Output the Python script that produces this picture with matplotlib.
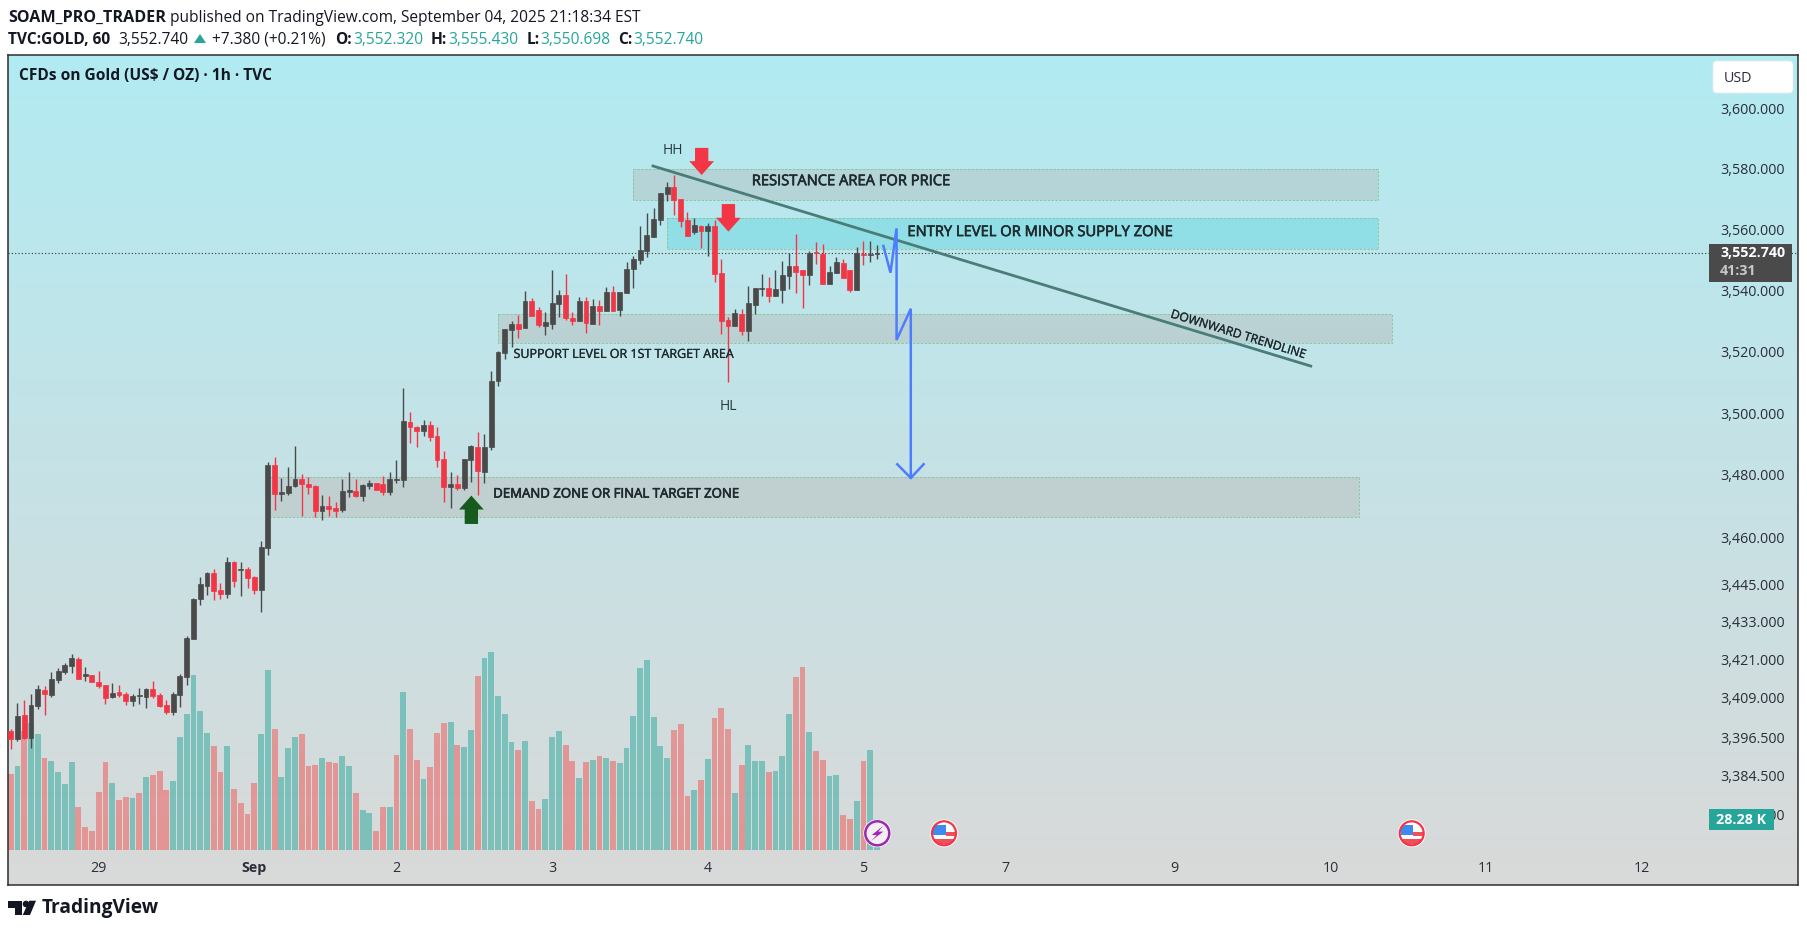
import numpy as np
import matplotlib
matplotlib.use("Agg")
import matplotlib.pyplot as plt
import matplotlib.patheffects as pe
from matplotlib.patches import Circle, Polygon, Rectangle, FancyBboxPatch
from matplotlib.transforms import Affine2D, ScaledTranslation
from matplotlib.ticker import NullLocator

plt.rcParams['font.family'] = ['Open Sans', 'DejaVu Sans']

# hourly bars, one value per bar
opens = [3399.1,3396.6,3404.2,3396.9,3407.0,3412.0,3410.5,3415.2,3417.7,3419.6,
         3421.8,3416.5,3416.8,3414.6,3413.6,3409.8,3411.4,3410.8,3408.6,3410.1,
         3409.8,3412.3,3410.5,3407.3,3405.1,3410.5,3416.1,3428.2,3440.8,3445.0,
         3449.1,3443.7,3442.4,3452.6,3450.1,3450.4,3447.9,3443.7,3457.1,3483.8,
         3474.4,3474.7,3477.0,3479.3,3477.6,3477.0,3469.0,3470.6,3469.9,3469.3,
         3475.1,3475.4,3473.8,3477.0,3478.0,3477.6,3475.1,3478.9,3478.9,3497.7,
         3496.0,3494.7,3496.7,3493.1,3485.7,3476.7,3477.6,3476.4,3485.4,3489.6,
         3481.5,3489.6,3510.9,3520.0,3527.5,3529.5,3528.2,3537.0,3534.1,3528.9,
         3529.5,3536.0,3539.0,3531.5,3530.5,3537.0,3529.5,3535.4,3533.8,3540.0,
         3534.1,3539.6,3547.5,3550.5,3553.4,3558.0,3563.6,3572.2,3574.5,3570.6,
         3563.6,3559.7,3561.7,3560.0,3561.7,3546.2,3530.8,3528.9,3532.8,3527.2,
         3535.7,3541.0,3541.3,3538.7,3540.6,3545.2,3548.5,3547.2,3545.6,3553.1,
         3552.4,3542.6,3546.2,3549.5,3547.2,3540.6,3552.4,3552.1,3552.32]
highs = [3399.8,3407.9,3408.9,3410.8,3413.6,3413.3,3417.7,3419.0,3420.6,3423.4,
         3422.5,3419.3,3416.8,3418.0,3413.6,3414.2,3413.6,3411.4,3410.8,3412.7,
         3412.7,3414.9,3411.1,3408.9,3411.4,3417.1,3429.1,3441.2,3447.9,3449.5,
         3450.4,3445.9,3454.2,3453.0,3452.6,3451.1,3448.2,3459.4,3484.7,3486.3,
         3479.6,3483.1,3489.9,3480.9,3479.9,3477.3,3474.1,3473.8,3471.9,3479.3,
         3481.5,3479.3,3477.6,3478.9,3478.0,3480.2,3481.5,3485.4,3508.7,3500.9,
         3496.4,3498.3,3498.0,3496.0,3488.3,3481.5,3480.5,3485.7,3490.2,3494.4,
         3493.8,3514.2,3520.7,3527.9,3530.5,3532.4,3540.3,3538.0,3535.1,3533.4,
         3547.2,3540.6,3545.9,3533.4,3538.3,3538.3,3537.7,3537.3,3541.6,3541.9,
         3540.0,3549.8,3551.8,3561.7,3566.0,3567.6,3572.6,3576.2,3578.5,3570.6,
         3566.3,3564.3,3562.0,3562.7,3563.6,3550.8,3531.8,3534.4,3534.4,3541.9,
         3541.3,3545.9,3544.9,3547.2,3550.1,3552.8,3559.0,3547.2,3553.4,3556.4,
         3555.7,3548.5,3551.5,3550.8,3547.2,3554.7,3556.7,3556.7,3555.43]
lows = [3393.5,3396.0,3396.6,3393.8,3406.0,3404.2,3409.8,3414.2,3417.1,3417.4,
        3415.5,3414.9,3414.6,3412.7,3407.6,3409.5,3409.8,3407.3,3407.0,3407.6,
        3406.4,3409.5,3406.7,3404.5,3404.2,3406.7,3413.6,3428.2,3438.9,3442.1,
        3440.5,3440.8,3441.2,3444.7,3441.8,3444.4,3442.4,3436.7,3454.9,3469.3,
        3472.2,3474.1,3476.7,3467.4,3474.4,3467.0,3466.1,3467.4,3467.0,3468.7,
        3473.5,3473.5,3472.2,3476.0,3475.7,3474.1,3474.1,3478.0,3476.7,3490.9,
        3489.6,3493.1,3491.5,3483.1,3471.9,3469.9,3475.7,3475.7,3478.3,3474.1,
        3478.0,3488.6,3509.3,3518.1,3522.0,3524.9,3528.2,3532.1,3528.5,3525.9,
        3527.9,3531.8,3530.8,3529.2,3530.5,3526.6,3529.5,3529.2,3533.8,3533.8,
        3532.1,3539.6,3541.3,3549.2,3551.5,3558.0,3562.0,3569.9,3565.3,3561.3,
        3558.4,3559.0,3554.4,3551.8,3543.3,3526.2,3510.6,3528.9,3525.9,3524.0,
        3532.8,3538.7,3536.7,3538.7,3536.4,3541.0,3539.6,3534.7,3542.3,3549.2,
        3542.6,3542.6,3546.2,3544.6,3540.0,3540.6,3548.8,3549.8,3550.698]
closes = [3396.6,3403.8,3396.9,3407.3,3412.3,3410.8,3415.5,3418.0,3419.9,3422.1,
          3415.5,3417.1,3414.6,3413.3,3409.5,3411.1,3410.5,3408.6,3410.1,3410.5,
          3412.3,3410.1,3407.0,3405.1,3410.8,3416.5,3428.5,3440.8,3445.6,3449.1,
          3443.4,3442.4,3452.6,3446.6,3450.4,3447.5,3443.7,3457.4,3483.8,3474.4,
          3475.1,3477.0,3479.3,3477.6,3476.7,3469.0,3470.6,3469.6,3469.0,3475.4,
          3475.7,3473.8,3477.3,3478.0,3475.7,3475.1,3479.3,3479.3,3498.0,3496.0,
          3494.7,3496.7,3492.8,3485.4,3476.7,3477.6,3476.4,3485.7,3489.9,3481.8,
          3489.6,3510.9,3520.4,3527.9,3529.5,3527.9,3537.0,3532.1,3529.2,3530.2,
          3536.4,3539.0,3531.5,3530.5,3537.0,3529.8,3535.4,3533.8,3540.0,3533.8,
          3540.0,3547.5,3550.8,3553.8,3558.7,3564.0,3572.6,3574.5,3570.2,3563.3,
          3558.4,3562.0,3560.0,3561.7,3545.9,3530.5,3528.9,3533.1,3527.2,3536.4,
          3541.3,3541.3,3538.7,3541.0,3545.6,3548.5,3546.5,3545.6,3552.8,3552.8,
          3542.6,3546.5,3549.8,3544.6,3540.6,3552.8,3552.1,3552.4,3552.74]

# volume in thousands
volume = [69.3,76.6,108.5,115.5,105.8,83.9,81.2,71.1,60.2,80.3,
          39.2,21.0,17.3,52.9,80.3,61.1,45.6,48.3,47.4,52.0,
          66.6,68.4,72.0,54.7,62.9,103.1,124.0,159.6,126.8,106.7,
          94.8,71.1,94.8,55.6,42.9,32.8,61.1,105.8,164.2,110.4,
          66.6,93.0,103.1,105.8,76.6,77.5,83.9,80.3,79.3,85.7,
          76.6,52.0,36.5,33.7,17.3,39.2,39.2,86.6,144.1,110.4,
          82.1,64.8,75.7,106.7,115.8,116.7,95.8,93.9,109.4,158.7,
          175.1,180.6,140.4,124.0,98.5,91.2,99.4,44.7,37.4,46.5,
          103.1,108.5,95.8,81.2,65.7,80.3,82.1,85.7,83.9,81.2,
          79.3,93.0,122.2,166.0,173.3,121.3,94.8,83.9,109.4,114.9,
          49.2,54.7,63.8,83.0,120.4,129.5,110.4,52.0,77.5,95.8,
          81.2,81.2,71.1,72.0,85.7,124.0,157.8,166.9,107.6,90.3,
          82.1,67.5,68.4,31.9,28.3,44.7,81.2,91.2,28.28]
volume_dir = ("duduuduuuu" "ddddduddud" "uddduuuuuu" "ddudddduud" "uuuddduddu"
              "uduuddudud" "duddduduud" "uuuuududdu" "uuddududud" "uuuuuuuudd"
              "dududddudu" "uuduuuddud" "duudduduu")

price_ticks = [3600, 3580, 3560, 3540, 3520, 3500, 3480, 3460, 3445, 3433,
               3421, 3409, 3396.5, 3384.5, 3372.5]
date_bars = [13, 36, 57, 80, 103, 126, 147, 172, 195, 218, 241]
date_labels = ['29', 'Sep', '2', '3', '4', '5', '7', '9', '10', '11', '12']

# left bar, right bar, top price, bottom price
resistance_zone = [92.0, 202.0, 3580.4, 3570.1]
entry_zone = [97.0, 202.0, 3564.2, 3554.2]
support_zone = [72.0, 204.1, 3532.7, 3523.2]
demand_zone = [38.3, 199.2, 3480.0, 3466.9]

trend_bars = [94.9, 192.1]
trend_prices = [3581.5, 3515.8]
path_bars = [128.95, 130.0, 130.9, 130.9, 133.0, 133.0]
path_prices = [3555.1, 3546.3, 3560.9, 3524.3, 3534.5, 3479.6]
head_bars = [131.0, 133.0, 134.9]
head_prices = [3484.0, 3479.6, 3484.0]

last_price = 3552.74
W, H = 1807, 932
LEFT, RIGHT, TOP, BOTTOM = 8, 1798, 55, 885

fig = plt.figure(figsize=(W / 100, H / 100), dpi=100, facecolor='white')
# reference pixels for the page furniture around the chart
to_px = Affine2D().scale(1 / W, -1 / H).translate(0, 1) + fig.transFigure
rect = [LEFT / W, 1 - BOTTOM / H, (RIGHT - LEFT) / W, (BOTTOM - TOP) / H]

# background gradient
bg_ax = fig.add_axes(rect, zorder=0)
top_col = np.array([178, 235, 242]) / 255
bot_col = np.array([217, 217, 217]) / 255
t = np.linspace(0, 1, 256)[:, None, None]
bg_ax.imshow(top_col[None, None, :] * (1 - t) + bot_col[None, None, :] * t, aspect='auto')
bg_ax.axis('off')

bars = np.arange(len(opens))
x_range = (-0.4, 264.1)

# volume pane, base sits above the time axis
vol_ax = fig.add_axes(rect, zorder=1)
vol_ax.patch.set_visible(False)
vol_colors = ['#26A69A' if d == 'u' else '#EF5350' for d in volume_dir]
vol_ax.bar(bars, volume, width=0.86, color=vol_colors, alpha=0.5, linewidth=0)
vol_ax.set_xlim(x_range)
vol_ax.set_ylim(-31.9, 725)
vol_ax.axis('off')

# price pane, log scale like the original
ax = fig.add_axes(rect, zorder=2)
ax.patch.set_visible(False)
ax.set_yscale('log')
ax.set_xlim(x_range)
ax.set_ylim(3350.96, 3618.47)

for z, fill in [(resistance_zone, '#AF9C96'), (support_zone, '#AF9C96'),
                (demand_zone, '#AF9C96'), (entry_zone, '#17C8D6')]:
    ax.fill_between(z[:2], z[3], z[2], color=fill, alpha=0.25, linewidth=0, zorder=1)
    ax.plot([z[0], z[1], z[1], z[0], z[0]], [z[2], z[2], z[3], z[3], z[2]],
            color='#8CC79B', lw=0.7, ls=(0, (2.5, 1.5)), zorder=1.2)

ax.axhline(last_price, color='#333333', lw=0.8, ls=(0, (1, 2)), zorder=1.5)

colors = ['#4A4A4A' if c >= o else '#F23645' for o, c in zip(opens, closes)]
ax.vlines(bars, lows, highs, colors=colors, lw=1.0, zorder=3)
body_low = np.minimum(opens, closes)
body_h = np.abs(np.array(closes) - np.array(opens))
ax.bar(bars, body_h, bottom=body_low, width=0.72, color=colors, edgecolor=colors,
       linewidth=0.5, zorder=3.1)

ax.plot(trend_bars, trend_prices, color='#4A7D78', lw=2.0, zorder=4)
ax.plot(path_bars, path_prices, color='#4D7DFF', lw=1.8, zorder=4.1, solid_joinstyle='miter')
ax.plot(head_bars, head_prices, color='#4D7DFF', lw=1.8, zorder=4.1)


def block_arrow(bar, tip, tail, color):
    ax.annotate('', xy=(bar, tip), xytext=(bar, tail), zorder=5,
                arrowprops=dict(width=9.6, headwidth=17.8, headlength=10, shrink=0,
                                color=color, linewidth=0))


block_arrow(102.1, 3578.5, 3587.5, '#F23645')
block_arrow(106.05, 3559.8, 3568.9, '#F23645')
block_arrow(68.07, 3473.9, 3464.8, '#165B1D')

label_col = '#1E2A2E'
# the drawing labels are a little heavier than the regular face
heavy = [pe.withStroke(linewidth=0.45, foreground=label_col)]
light = [pe.withStroke(linewidth=0.2, foreground=label_col)]
ax.text(109.5, 3576.3, 'RESISTANCE AREA FOR PRICE', fontsize=10.6, color=label_col,
        va='center', zorder=6, path_effects=heavy)
ax.text(132.5, 3559.5, 'ENTRY LEVEL OR MINOR SUPPLY ZONE', fontsize=10.6, color=label_col,
        va='center', zorder=6, path_effects=heavy)
ax.text(74.3, 3519.6, 'SUPPORT LEVEL OR 1ST TARGET AREA', fontsize=9, color=label_col,
        va='center', zorder=6, path_effects=light)
ax.text(71.3, 3474.4, 'DEMAND ZONE OR FINAL TARGET ZONE', fontsize=9.5, color=label_col,
        va='center', zorder=6, path_effects=heavy)
ax.text(181.4, 3526.1, 'DOWNWARD TRENDLINE', fontsize=8.7, color=label_col, rotation=-17,
        rotation_mode='anchor', ha='center', va='center', zorder=6, path_effects=light)
ax.text(97.9, 3586.5, 'HH', fontsize=10, color='#2A3A3E', ha='center', va='center', zorder=6)
ax.text(106.05, 3502.6, 'HL', fontsize=10, color='#2A3A3E', ha='center', va='center', zorder=6)

# axes labels sit inside the frame
ax.yaxis.tick_right()
ax.set_yticks(price_ticks)
ax.set_yticklabels(['{:,.3f}'.format(p) for p in price_ticks], ha='right')
ax.yaxis.set_minor_locator(NullLocator())
ax.tick_params(axis='y', length=0, pad=-9.4, labelsize=10.3, labelcolor='#2A2E39')
raise_up = ScaledTranslation(0, 1.2 / 72, fig.dpi_scale_trans)
for lab in ax.get_yticklabels():
    lab.set_transform(lab.get_transform() + raise_up)
ax.set_xticks(date_bars)
ax.set_xticklabels(date_labels)
ax.tick_params(axis='x', length=0, pad=-17.5, labelsize=10.3, labelcolor='#2A2E39')
for lab in ax.get_xticklabels():
    if lab.get_text() == 'Sep':
        lab.set_fontweight('bold')
for side in ax.spines.values():
    side.set_color('#2E2E2E')
    side.set_linewidth(1.1)


def page_text(x, y, s, **kw):
    kw.setdefault('va', 'center')
    kw.setdefault('color', '#131722')
    kw.setdefault('fontsize', 11.2)
    fig.text(x, y, s, transform=to_px, zorder=20, **kw)


def page_patch(p):
    p.set_transform(to_px)
    p.set_zorder(15)
    fig.add_artist(p)
    return p


# header lines
page_text(8, 17.7, 'SOAM_PRO_TRADER', fontweight='bold', fontsize=11.6)
page_text(170, 17.7, 'published on TradingView.com, September 04, 2025 21:18:34 EST')
page_text(8, 39.7, 'TVC:GOLD, 60', fontweight='bold')
page_text(118, 39.7, '3,552.740')
page_patch(Polygon([(194, 43), (206, 43), (200, 34)], color='#26A69A', lw=0))
page_text(212, 39.7, '+7.380 (+0.21%)')
teal = '#26A69A'
for lx, vx, letter, val in [(335.4, 353, 'O:', '3,552.320'), (431, 448, 'H:', '3,555.430'),
                            (527, 540.5, 'L:', '3,550.698'), (618.5, 633.5, 'C:', '3,552.740')]:
    page_text(lx, 39.7, letter, fontweight='bold')
    page_text(vx, 39.7, val, color=teal)

page_text(19, 76.5, 'CFDs on Gold (US$ / OZ) · 1h · TVC', fontweight='bold', fontsize=11.2)

# USD button and price tags
page_patch(FancyBboxPatch((1715, 63), 76, 28, boxstyle='round,pad=2,rounding_size=4',
                          fc='white', ec='#E6EEF0', lw=0.6))
page_text(1724, 78, 'USD', fontsize=10.3, color='#2A2E39')
page_patch(Rectangle((1709, 243.7), 83, 38, fc='#4A4A4A', ec='none'))
page_text(1786, 253.3, '3,552.740', ha='right', color='white', fontweight='bold', fontsize=10.3)
page_text(1720, 270.7, '41:31', color='#C8C8C8', fontweight='bold', fontsize=10.3)
page_patch(Rectangle((1709, 809), 65, 21, fc='#26A69A', ec='none'))
page_text(1741.5, 819.5, '28.28 K', ha='center', color='white', fontweight='bold', fontsize=10.3)

# event icons
cx, cy = 877.3, 833.3
page_patch(Circle((cx, cy), 14, fc='white', ec='none'))
page_patch(Circle((cx, cy), 12, fc='#F3EEF4', ec='#9C27B0', lw=1.8))
page_patch(Polygon([(cx + 6, cy - 7.5), (cx - 5.5, cy + 1.7), (cx - 0.5, cy + 1.7),
                    (cx - 6, cy + 7.5), (cx + 6, cy - 1.7), (cx + 1, cy - 1.7)],
                   fc='#9C27B0', ec='none'))

for cx, cy in [(944, 833.3), (1411.7, 833.3)]:
    page_patch(Circle((cx, cy), 14, fc='white', ec='none'))
    clip = page_patch(Circle((cx, cy), 12, fc='white', ec='none'))
    parts = [Rectangle((cx + 1.7, cy - 1.7), 10, 4.4, fc='#F0505C', ec='none'),
             Rectangle((cx - 10, cy + 6), 20, 4.2, fc='#F0505C', ec='none'),
             Rectangle((cx - 11, cy - 8.3), 12.7, 10, fc='#3D8BF0', ec='none')]
    for part in parts:
        part.set_transform(to_px)
        part.set_zorder(16)
        fig.add_artist(part)
        part.set_clip_path(clip)
    ring = page_patch(Circle((cx, cy), 12, fc='none', ec='#F23645', lw=1.6))
    ring.set_zorder(17)

# logo bottom left
logo = '#131722'
page_patch(Polygon([(8, 900.7), (22, 900.7), (22, 915), (15, 915), (15, 907.7), (8, 907.7)],
                   fc=logo, ec='none'))
page_patch(Circle((26, 904), 3.3, fc=logo, ec='none'))
page_patch(Polygon([(29.3, 900.7), (36, 900.7), (30, 915), (22.7, 915)], fc=logo, ec='none'))
page_text(42, 908, 'TradingView', fontsize=13.8, fontweight='bold', color=logo)

fig.savefig('out.png', dpi=100, facecolor='white')
